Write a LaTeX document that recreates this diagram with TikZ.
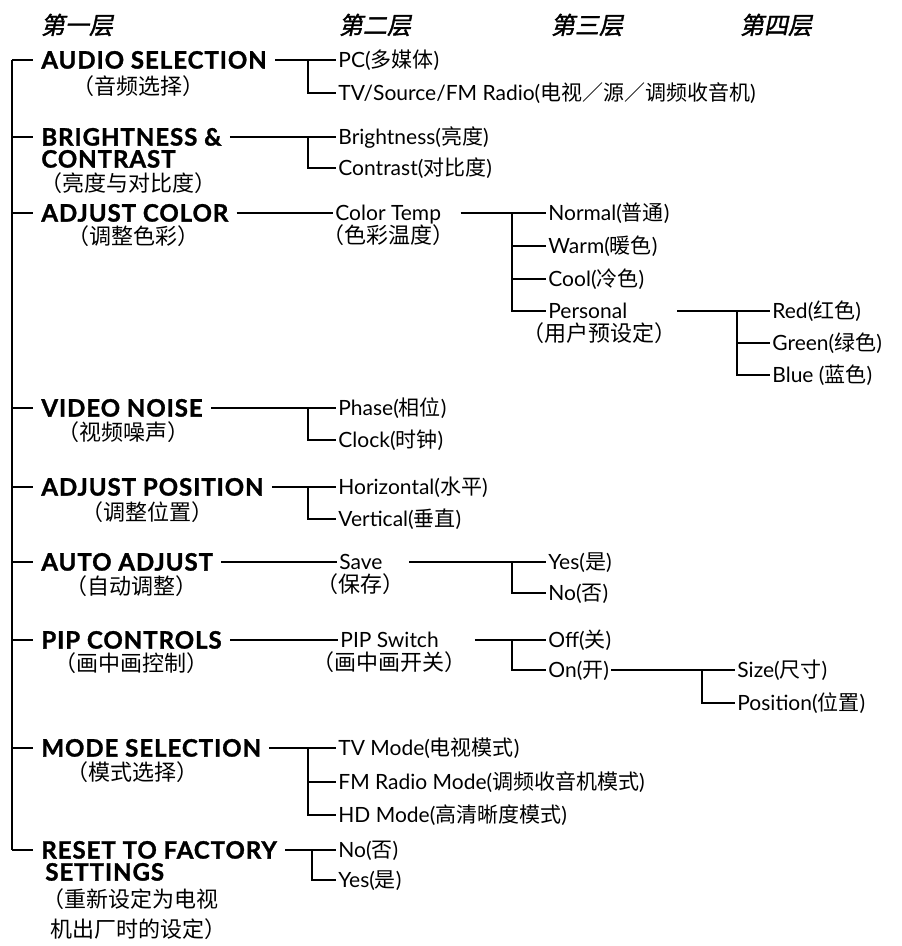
\documentclass[tikz,border=0pt]{standalone}
\usepackage{fontspec}
\setmainfont{Lato}
\newfontfamily\headfont[LetterSpace=4,FakeBold=1.3]{Lato}
\newfontfamily\zh{Noto Sans CJK SC}
\newfontfamily\zhit[FakeSlant=0.2,FakeBold=1.5]{Noto Sans CJK SC}
\usetikzlibrary{positioning}
\newcommand{\cn}[1]{{\zh #1}}
\tikzset{
  tier/.style={font=\zhit\fontsize{12}{14}\selectfont, inner sep=0pt},
  head/.style={anchor=west, font=\headfont\bfseries\fontsize{12}{14}\selectfont,
               inner xsep=4pt, inner ysep=0pt, text height=8.8pt, text depth=0.2pt},
  item/.style={anchor=west, font=\fontsize{10.5}{12}\selectfont,
               inner xsep=1pt, inner ysep=0pt, text height=8pt, text depth=0.5pt},
  note/.style={font=\zh\fontsize{11}{13}\selectfont, inner sep=0pt},
  link/.style={draw=black, line width=0.65pt}
}
\begin{document}
\begin{tikzpicture}[x=0.5pt, y=-0.5pt]
  \useasboundingbox (0,0) rectangle (901,946);

  % tier headings
  \node[tier] (t1) at (77,25)  {第一层};
  \node[tier] (t2) at (375,25) {第二层};
  \node[tier] (t3) at (587,25) {第三层};
  \node[tier] (t4) at (776,25) {第四层};

  % junction columns
  \coordinate (trunk) at (12,0);
  \coordinate (j2) at (308,0);
  \coordinate (j2r) at (312,0);
  \coordinate (j3) at (512,0);
  \coordinate (j4a) at (737,0);
  \coordinate (j4b) at (702,0);

  % first level
  \node[head] (audio) at (33,60)  {AUDIO SELECTION};
  \node[note] (audio-zh) at (138,86) {（音频选择）};
  \node[head] (bright) at (33,137) {BRIGHTNESS \&};
  \node[head] (contrast) at (33,159) {CONTRAST};
  \node[note, anchor=west] (bright-zh) at (40,183) {（亮度与对比度）};
  \node[head] (color) at (33,213)  {ADJUST COLOR};
  \node[note] (color-zh) at (133,236) {（调整色彩）};
  \node[head] (noise) at (33,408)  {VIDEO NOISE};
  \node[note] (noise-zh) at (123,432) {（视频噪声）};
  \node[head] (pos) at (33,487)    {ADJUST POSITION};
  \node[note] (pos-zh) at (147,512) {（调整位置）};
  \node[head] (auto) at (33,562)   {AUTO ADJUST};
  \node[note] (auto-zh) at (131,586) {（自动调整）};
  \node[head] (pip) at (33,640)    {PIP CONTROLS};
  \node[note] (pip-zh) at (131,663) {（画中画控制）};
  \node[head] (mode) at (33,748)   {MODE SELECTION};
  \node[note] (mode-zh) at (132,772) {（模式选择）};
  \node[head] (reset) at (33,850)  {RESET TO FACTORY};
  \node[head] (settings) at (37,872) {SETTINGS};
  \node[note, anchor=west] (reset-zh) at (42,899) {（重新设定为电视};
  \node[note, anchor=west] (reset-zh2) at (50,929) {机出厂时的设定）};

  \draw[link] (trunk |- audio.west) -- (trunk |- reset.west);
  \foreach \h in {audio,bright,color,noise,pos,auto,pip,mode,reset}
    \draw[link] (trunk |- \h.west) -- (\h.west);

  % AUDIO SELECTION
  \node[item] (pc) at (336,60) {PC(\cn{多媒体})};
  \node[item] (tv) at (336,93) {TV/Source/FM Radio(\cn{电视／源／调频收音机})};
  \draw[link] (audio.east) -- (audio.east -| j2);
  \foreach \c in {pc,tv}
    \draw[link] (audio.east -| j2) |- (\c.west);

  % BRIGHTNESS & CONTRAST
  \node[item] (bri) at (336,137) {Brightness(\cn{亮度})};
  \node[item] (con) at (336,168) {Contrast(\cn{对比度})};
  \draw[link] (bright.east) -- (bright.east -| j2);
  \foreach \c in {bri,con}
    \draw[link] (bright.east -| j2) |- (\c.west);

  % ADJUST COLOR
  \node[item] (ctemp) at (333,213) {Color Temp};
  \node[note, below=1pt of ctemp] (ctemp-zh) {（色彩温度）};
  \draw[link] (color.east) -- (ctemp.west);
  \node[item] (normal) at (546,213) {Normal(\cn{普通})};
  \node[item] (warm) at (546,246) {Warm(\cn{暖色})};
  \node[item] (cool) at (546,279) {Cool(\cn{冷色})};
  \node[item] (personal) at (546,311) {Personal};
  \node[note, below=1pt of personal, xshift=6pt] (personal-zh) {（用户预设定）};
  \draw[link, shorten <=3pt] (ctemp-zh.east |- ctemp.east) -- (ctemp.east -| j3);
  \foreach \c in {normal,warm,cool,personal}
    \draw[link] (ctemp.east -| j3) |- (\c.west);
  \node[item] (red) at (770,311) {Red(\cn{红色})};
  \node[item] (green) at (770,343) {Green(\cn{绿色})};
  \node[item] (blue) at (770,375) {Blue (\cn{蓝色})};
  \draw[link] (personal-zh.east |- personal.east) -- (personal.east -| j4a);
  \foreach \c in {red,green,blue}
    \draw[link] (personal.east -| j4a) |- (\c.west);

  % VIDEO NOISE
  \node[item] (phase) at (336,408) {Phase(\cn{相位})};
  \node[item] (clock) at (336,440) {Clock(\cn{时钟})};
  \draw[link] (noise.east) -- (noise.east -| j2);
  \foreach \c in {phase,clock}
    \draw[link] (noise.east -| j2) |- (\c.west);

  % ADJUST POSITION
  \node[item] (horiz) at (336,487) {Horizontal(\cn{水平})};
  \node[item] (vert) at (336,519) {Vertical(\cn{垂直})};
  \draw[link] (pos.east) -- (pos.east -| j2);
  \foreach \c in {horiz,vert}
    \draw[link] (pos.east -| j2) |- (\c.west);

  % AUTO ADJUST
  \node[item] (save) at (337,562) {Save};
  \node[note, below=1pt of save] (save-zh) {（保存）};
  \draw[link] (auto.east) -- (save.west);
  \node[item] (yes) at (546,562) {Yes(\cn{是})};
  \node[item] (no) at (546,593) {No(\cn{否})};
  \draw[link, shorten <=2pt] (save-zh.east |- save.east) -- (save.east -| j3);
  \foreach \c in {yes,no}
    \draw[link] (save.east -| j3) |- (\c.west);

  % PIP CONTROLS
  \node[item] (pipsw) at (338,640) {PIP Switch};
  \node[note, below=1pt of pipsw] (pipsw-zh) {（画中画开关）};
  \draw[link] (pip.east) -- (pipsw.west);
  \node[item] (off) at (546,640) {Off(\cn{关})};
  \node[item] (on) at (546,670) {On(\cn{开})};
  \draw[link, shorten <=4pt] (pipsw-zh.east |- pipsw.east) -- (pipsw.east -| j3);
  \foreach \c in {off,on}
    \draw[link] (pipsw.east -| j3) |- (\c.west);
  \node[item] (size) at (735,670) {Size(\cn{尺寸})};
  \node[item] (place) at (735,703) {Position(\cn{位置})};
  \draw[link] (on.east) -- (on.east -| j4b);
  \foreach \c in {size,place}
    \draw[link] (on.east -| j4b) |- (\c.west);

  % MODE SELECTION
  \node[item] (tvmode) at (336,748) {TV Mode(\cn{电视模式})};
  \node[item] (fmmode) at (336,782) {FM Radio Mode(\cn{调频收音机模式})};
  \node[item] (hdmode) at (336,815) {HD Mode(\cn{高清晰度模式})};
  \draw[link] (mode.east) -- (mode.east -| j2);
  \foreach \c in {tvmode,fmmode,hdmode}
    \draw[link] (mode.east -| j2) |- (\c.west);

  % RESET TO FACTORY SETTINGS
  \node[item] (rno) at (336,850) {No(\cn{否})};
  \node[item] (ryes) at (336,880) {Yes(\cn{是})};
  \draw[link] (reset.east) -- (reset.east -| j2r);
  \foreach \c in {rno,ryes}
    \draw[link] (reset.east -| j2r) |- (\c.west);
\end{tikzpicture}
\end{document}
